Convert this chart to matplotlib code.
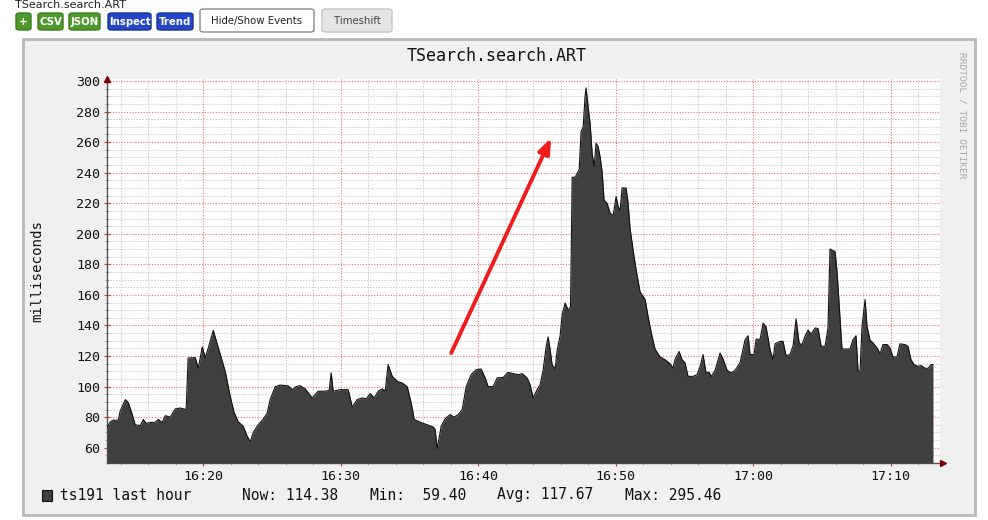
import matplotlib
matplotlib.use("Agg")
import matplotlib.pyplot as plt
from matplotlib.patches import FancyBboxPatch, Rectangle
import numpy as np

# ---------------- data ----------------
# minutes after 16:00
minutes = [13.02, 13.24, 13.45, 13.82, 13.96, 14.33, 14.55, 14.84, 15.05, 15.42, 15.64, 15.85,
           16.15, 16.51, 16.73, 17.02, 17.24, 17.60, 17.96, 18.33, 18.76, 18.90, 19.42, 19.64,
           19.93, 20.15, 20.36, 20.58, 20.73, 20.95, 21.24, 21.60, 21.96, 22.25, 22.55, 22.91,
           23.20, 23.42, 23.64, 24.00, 24.36, 24.65, 24.87, 25.24, 25.60, 26.18, 26.47, 26.76,
           27.05, 27.42, 27.93, 28.36, 28.87, 29.16, 29.31, 29.45, 29.96, 30.55, 30.84, 31.20,
           31.56, 31.85, 32.15, 32.44, 32.73, 33.02, 33.24, 33.45, 33.75, 34.11, 34.47, 34.84,
           35.13, 35.35, 35.78, 36.29, 36.73, 36.87, 37.02, 37.31, 37.60, 37.96, 38.25, 38.55,
           38.84, 39.13, 39.49, 39.85, 40.22, 40.51, 40.73, 41.09, 41.38, 41.82, 42.18, 42.55,
           42.91, 43.20, 43.56, 43.78, 44.00, 44.29, 44.51, 44.73, 44.95, 45.09, 45.24, 45.38,
           45.60, 45.75, 45.96, 46.11, 46.33, 46.55, 46.72, 46.84, 47.05, 47.35, 47.49, 47.64,
           47.78, 47.85, 48.00, 48.15, 48.29, 48.44, 48.58, 48.73, 48.87, 49.02, 49.16, 49.38,
           49.60, 49.82, 50.04, 50.18, 50.33, 50.47, 50.76, 50.91, 51.05, 51.27, 51.49, 51.78,
           52.15, 52.36, 52.65, 52.87, 53.24, 53.60, 53.96, 54.18, 54.33, 54.62, 54.84, 55.05,
           55.27, 55.64, 55.93, 56.15, 56.36, 56.58, 56.80, 56.95, 57.24, 57.60, 57.82, 58.11,
           58.40, 58.69, 59.05, 59.42, 59.64, 59.78, 60.07, 60.22, 60.51, 60.73, 60.95, 61.24,
           61.45, 61.60, 61.96, 62.18, 62.40, 62.69, 62.91, 63.13, 63.35, 63.56, 63.78, 64.00,
           64.22, 64.51, 64.73, 64.95, 65.24, 65.45, 65.60, 65.96, 66.11, 66.33, 66.47, 66.76,
           67.05, 67.27, 67.49, 67.64, 67.78, 67.93, 68.15, 68.29, 68.51, 68.73, 69.02, 69.24,
           69.45, 69.75, 69.96, 70.18, 70.47, 70.69, 71.05, 71.27, 71.49, 71.71, 72.00, 72.22,
           72.51, 72.73, 72.95, 73.09]
ms_values = [73.4, 77.0, 78.0, 78.0, 84.0, 91.5, 89.5, 81.7, 75.0, 74.5, 78.5, 76.0,
             76.5, 76.7, 78.5, 76.5, 81.0, 80.0, 85.4, 86.0, 85.0, 118.7, 119.0, 112.0,
             126.0, 119.0, 125.0, 132.0, 136.8, 130.0, 121.0, 110.0, 93.7, 83.0, 77.0, 74.0,
             67.5, 64.0, 70.0, 75.0, 78.7, 82.5, 91.5, 100.0, 101.0, 100.5, 98.0, 100.0,
             100.6, 98.5, 92.6, 97.0, 97.0, 97.5, 109.0, 97.0, 98.0, 98.0, 86.7, 91.5,
             92.6, 92.0, 95.4, 92.6, 97.0, 98.5, 97.0, 114.4, 106.7, 103.5, 102.4, 100.0,
             89.3, 78.5, 76.7, 75.0, 73.6, 72.0, 59.4, 74.0, 79.0, 81.7, 80.0, 81.7,
             85.0, 100.0, 107.8, 111.0, 111.5, 105.7, 100.0, 100.0, 105.7, 106.0, 109.3, 108.5,
             107.8, 108.5, 105.7, 101.3, 92.6, 98.0, 101.3, 111.0, 126.4, 132.5, 124.0, 114.4,
             111.4, 124.0, 133.0, 147.0, 154.7, 150.0, 152.0, 237.0, 237.0, 242.0, 267.0, 270.0,
             290.0, 295.46, 283.0, 272.0, 252.7, 244.0, 259.3, 257.0, 250.5, 240.7, 222.0, 220.0,
             213.5, 212.0, 224.4, 218.0, 215.0, 230.0, 230.0, 220.0, 203.7, 189.5, 176.5, 162.0,
             157.0, 146.0, 133.0, 124.6, 119.4, 117.6, 115.0, 112.0, 118.0, 123.0, 117.6, 115.6,
             106.7, 106.7, 107.8, 113.3, 121.0, 109.0, 109.5, 106.5, 110.7, 122.0, 118.0, 110.7,
             109.0, 110.7, 115.6, 130.7, 133.3, 121.0, 121.0, 131.0, 131.0, 141.6, 139.0, 124.0,
             117.6, 128.0, 129.6, 129.6, 120.3, 121.0, 126.7, 144.3, 128.5, 127.4, 133.0, 137.0,
             134.3, 138.4, 138.0, 126.4, 126.4, 138.4, 190.0, 188.4, 175.4, 144.0, 124.6, 124.6,
             124.6, 130.7, 133.3, 110.0, 110.0, 139.9, 157.0, 139.4, 130.3, 128.5, 125.3, 121.6,
             127.5, 127.5, 125.3, 119.4, 119.4, 128.0, 127.5, 126.4, 117.6, 114.4, 113.3, 113.8,
             112.0, 112.0, 114.4, 114.38]

x_ticks = [20, 30, 40, 50, 60, 70]
x_tick_labels = ["16:20", "16:30", "16:40", "16:50", "17:00", "17:10"]
y_ticks = [60, 80, 100, 120, 140, 160, 180, 200, 220, 240, 260, 280, 300]

title = "TSearch.search.ART"
series_name = "ts191 last hour"
stats_labels = ["Now:", "Min:", "Avg:", "Max:"]
stats_values = [114.38, 59.40, 117.67, 295.46]

buttons = ["+", "CSV", "JSON", "Inspect", "Trend", "Hide/Show Events", "Timeshift"]

# ---------------- figure ----------------
W, H = 988, 520
fig = plt.figure(figsize=(W / 100, H / 100), dpi=100)
fig.patch.set_facecolor("white")

def fx(px):
    return px / W

def fy(py):
    return 1 - py / H

mono = "DejaVu Sans Mono"

# top header text (partially cut in the original)
fig.text(fx(15), fy(5), "TSearch.search.ART", fontsize=8, family="DejaVu Sans",
         ha="left", va="center", color="#222222")

# buttons
btn_specs = [  # x0, x1, face, edge, text color, bold
    (16, 31, "#4f9a2c", "#3d7a20", "white", True),
    (38, 63, "#4f9a2c", "#3d7a20", "white", True),
    (69, 100, "#4f9a2c", "#3d7a20", "white", True),
    (108, 151, "#2546c8", "#1a338f", "white", True),
    (157, 193, "#2546c8", "#1a338f", "white", True),
    (200, 314, "white", "#888888", "#222222", False),
    (322, 392, "#e4e4e4", "#c4c4c4", "#444444", False),
]
for label, (x0, x1, fc, ec, tc, bold) in zip(buttons, btn_specs):
    if bold:
        y0, y1 = 13, 30
    else:
        y0, y1 = 9, 32
    p = FancyBboxPatch((fx(x0), fy(y1)), fx(x1 - x0), (y1 - y0) / H,
                       boxstyle="round,pad=0,rounding_size=0.004",
                       transform=fig.transFigure, facecolor=fc, edgecolor=ec,
                       linewidth=1.0, figure=fig, zorder=-3)
    fig.patches.append(p)
    fig.text(fx((x0 + x1) / 2), fy((y0 + y1) / 2 + 0.5), label, fontsize=7.3,
             ha="center", va="center", color=tc,
             fontweight="bold" if bold else "normal", family="DejaVu Sans")

# gray panel (behind the axes)
panel = Rectangle((fx(23), fy(515)), fx(975 - 23), (515 - 39) / H,
                  transform=fig.transFigure, facecolor="#f0f0f0",
                  edgecolor="#b8b8b8", linewidth=2.0, figure=fig, zorder=-5)
fig.patches.append(panel)

# ---------------- axes ----------------
ax_l, ax_r, ax_t, ax_b = 107, 940, 79, 463
ax = fig.add_axes([fx(ax_l), fy(ax_b), fx(ax_r - ax_l), (ax_b - ax_t) / H])
ax.set_zorder(2)
ax.set_facecolor("white")

t = np.array(minutes)
v = np.array(ms_values)
ax.fill_between(t, v, 50, color="#3f3f3f", linewidth=0, zorder=3)
ax.plot(t, v, color="#111111", linewidth=0.8, zorder=4)

ax.set_xlim(13.0, 73.6)
ax.set_ylim(50, 301.3)

ax.set_xticks(x_ticks)
ax.set_xticklabels(x_tick_labels)
ax.set_xticks(np.arange(14, 74, 2), minor=True)
ax.set_yticks(y_ticks)
ax.set_yticks(np.arange(55, 301, 5), minor=True)

ax.set_axisbelow(True)
ax.grid(which="minor", color="#cccccc", linestyle=(0, (1.5, 1.5)), linewidth=0.7, zorder=0)
ax.grid(which="major", color="#f07070", linestyle=(0, (1, 1.5)), linewidth=0.8, zorder=1)

for s in ["top", "right"]:
    ax.spines[s].set_visible(False)
ax.spines["left"].set_color("#555555")
ax.spines["bottom"].set_color("#555555")
ax.spines["left"].set_linewidth(1.0)
ax.spines["bottom"].set_linewidth(1.0)

ax.tick_params(axis="both", which="major", direction="inout", length=4, color="#cc3333",
               labelsize=9.6, labelcolor="#111111", pad=3)
ax.tick_params(axis="both", which="minor", direction="inout", length=3, color="#999999")
for lab in ax.get_xticklabels() + ax.get_yticklabels():
    lab.set_family(mono)

# axis arrows
ax.plot([0], [1.0], marker="^", color="#7a0000", markersize=5, transform=ax.transAxes,
        clip_on=False, zorder=6)
ax.plot([1.004], [0], marker=">", color="#7a0000", markersize=5, transform=ax.transAxes,
        clip_on=False, zorder=6)

ax.set_ylabel("milliseconds", family=mono, fontsize=10.2, color="#111111")
ax.yaxis.set_label_coords((44 - ax_l) / (ax_r - ax_l), 0.5)

# red annotation arrow
ax.annotate("", xy=(45.31, 262.7), xytext=(38.04, 122.0),
            arrowprops=dict(arrowstyle="-|>,head_length=0.9,head_width=0.35",
                            color="#ee1c1c", linewidth=2.8, shrinkA=0, shrinkB=0),
            zorder=7)

# title
fig.text(fx(497), fy(56), title, family=mono, fontsize=12, ha="center", va="center",
         color="#111111")

# watermark
fig.text(fx(962), fy(115), "RRDTOOL / TOBI OETIKER", family=mono, fontsize=6.8,
         rotation=-90, ha="center", va="center", color="#a8a8a8")

# legend
leg_y = 495
sq = Rectangle((fx(42), fy(501)), fx(10), 11 / H, transform=fig.transFigure,
               facecolor="#3f3f3f", edgecolor="#111111", linewidth=0.8, figure=fig)
fig.patches.append(sq)
fig.text(fx(60), fy(leg_y), series_name, family=mono, fontsize=10.5, ha="left",
         va="center", color="#111111")
stat_x = [242, 370, 497, 625]
for sx, lab, val in zip(stat_x, stats_labels, stats_values):
    fig.text(fx(sx), fy(leg_y), f"{lab} {val:6.2f}", family=mono, fontsize=10.5,
             ha="left", va="center", color="#111111")

fig.savefig("out.png", dpi=100)
